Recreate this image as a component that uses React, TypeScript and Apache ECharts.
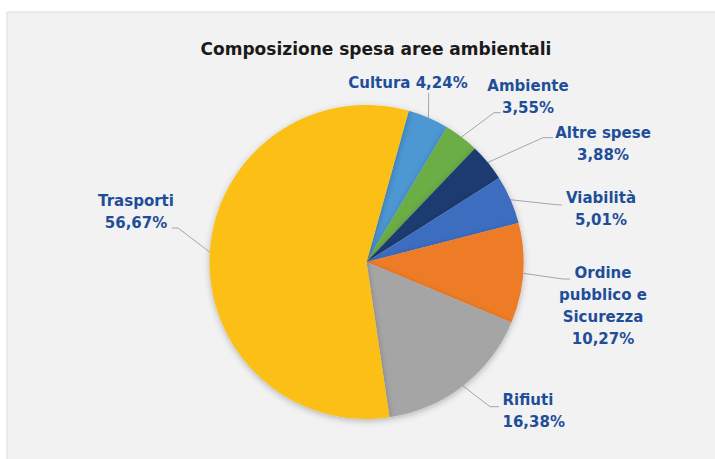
import React, { useEffect, useRef } from "react";
import * as echarts from "echarts";

const titleText = "Composizione spesa aree ambientali";
const categories = [
  "Cultura",
  "Ambiente",
  "Altre spese",
  "Viabilità",
  "Ordine pubblico e Sicurezza",
  "Rifiuti",
  "Trasporti",
];
const labelNames = [
  "Cultura",
  "Ambiente",
  "Altre spese",
  "Viabilità",
  "Ordine\npubblico e\nSicurezza",
  "Rifiuti",
  "Trasporti",
];
const values = [4.24, 3.55, 3.88, 5.01, 10.27, 16.38, 56.67];
const colors = ["#4e97d3", "#6aae45", "#1e3a6f", "#3c6dbf", "#ee7b27", "#a5a5a5", "#fbbf14"];

// label placement (layout only)
const labelAnchors: [number, number, string][] = [
  [408, 83, "center"],
  [528, 96.5, "center"],
  [603, 144, "center"],
  [601, 209, "center"],
  [603, 306, "center"],
  [502.5, 411, "left"],
  [136, 212, "center"],
];
const leaderBends: [number, number, number, number][] = [
  [428.7, 93, 428.7, 93],
  [494, 112.7, 500.5, 112.7],
  [543, 137.7, 553, 137.7],
  [554, 204.5, 561.7, 205],
  [563, 279, 570, 279],
  [490, 406.7, 499, 406.7],
  [178, 228, 171.7, 228],
];

const fontFamily = "DejaVu Sans";

export default function App() {
  const ref = useRef<HTMLDivElement>(null);
  useEffect(() => {
    if (!ref.current) return;
    const chart = echarts.init(ref.current, undefined, { renderer: "svg" });
    chart.setOption({
      animation: false,
      backgroundColor: "#ffffff",
      graphic: [
        {
          type: "rect",
          z: -10,
          silent: true,
          shape: { x: 7, y: 12, width: 720, height: 460 },
          style: { fill: "#f2f2f2", stroke: "#dcdcdc", lineWidth: 1 },
        },
      ],
      title: {
        text: titleText,
        left: 371,
        top: 35,
        textAlign: "center",
        textStyle: {
          fontFamily,
          fontSize: 17,
          fontWeight: "bold",
          color: "#1a1a1a",
        },
      },
      series: [
        {
          type: "pie",
          center: [366.5, 262],
          radius: 157,
          startAngle: 74.4,
          clockwise: true,
          avoidLabelOverlap: false,
          data: categories.map((c, i) => ({
            name: c,
            value: values[i],
            itemStyle: { color: colors[i] },
          })),
          itemStyle: {
            borderWidth: 0,
            shadowBlur: 6,
            shadowOffsetY: 2,
            shadowColor: "rgba(0,0,0,0.25)",
          },
          label: {
            show: true,
            position: "outside",
            fontFamily,
            fontSize: 15,
            fontWeight: "bold",
            color: "#1f4e99",
            lineHeight: 22,
            formatter: (p: any) => {
              const pct = values[p.dataIndex].toFixed(2).replace(".", ",") + "%";
              return labelNames[p.dataIndex] + (p.dataIndex === 0 ? " " : "\n") + pct;
            },
          },
          labelLine: {
            show: true,
            length: 10,
            length2: 6,
            lineStyle: { color: "#a6a6a6", width: 1 },
          },
          labelLayout: (params: any) => {
            const i = params.dataIndex;
            const a = labelAnchors[i];
            const b = leaderBends[i];
            const start = params.labelLinePoints ? params.labelLinePoints[0] : [b[0], b[1]];
            return {
              x: a[0],
              y: a[1],
              align: a[2],
              verticalAlign: "middle",
              labelLinePoints: [
                [start[0], start[1]],
                [b[0], b[1]],
                [b[2], b[3]],
              ],
            };
          },
        },
      ],
    });
    return () => chart.dispose();
  }, []);
  return (
    <div
      ref={ref}
      style={{ position: "absolute", left: 0, top: 0, width: 715, height: 459 }}
    />
  );
}
